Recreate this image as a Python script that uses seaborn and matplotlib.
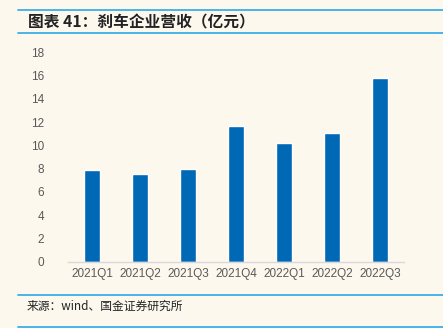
import matplotlib
matplotlib.use("Agg")
import matplotlib.pyplot as plt
from matplotlib.lines import Line2D
import seaborn as sns
import pandas as pd
import numpy as np

quarters = ["2021Q1", "2021Q2", "2021Q3", "2021Q4", "2022Q1", "2022Q2", "2022Q3"]
revenue = [7.88, 7.56, 7.94, 11.70, 10.18, 11.07, 15.78]
y_ticks = [0, 2, 4, 6, 8, 10, 12, 14, 16, 18]

title_text = "图表 41：刹车企业营收（亿元）"
source_text = "来源：wind、国金证券研究所"

bg = "#FCF8EE"
bar_color = "#0068B5"
rule_color = "#3BAEE8"

sns.set_theme(style="white")
plt.rcParams["font.family"] = ["Liberation Sans", "Noto Sans CJK SC", "DejaVu Sans"]

df = pd.DataFrame({"quarter": quarters, "revenue": revenue})

fig = plt.figure(figsize=(4.43, 3.28), dpi=100, facecolor=bg)
ax = fig.add_axes([68 / 443, 1 - 261.5 / 328, 336 / 443, 209 / 328])
ax.set_facecolor(bg)

sns.barplot(data=df, x="quarter", y="revenue", color=bar_color, width=0.34,
            saturation=1, ax=ax)

ax.set_ylim(0, 18)
ax.set_yticks(y_ticks)
ax.set_yticklabels([str(v) for v in y_ticks])
ax.set_xlim(-0.5, len(quarters) - 0.5)
ax.set_xlabel("")
ax.set_ylabel("")

for side in ["top", "right", "left"]:
    ax.spines[side].set_visible(False)
ax.spines["bottom"].set_color("#D9D9D9")
ax.spines["bottom"].set_linewidth(1.0)

ax.tick_params(axis="y", length=0, labelsize=8.5, labelcolor="#595959", pad=17)
ax.tick_params(axis="x", length=0, labelsize=8.5, labelcolor="#595959", pad=5)
ax.set_xticks(np.arange(-0.5, len(quarters)), minor=True)
ax.tick_params(axis="x", which="minor", length=3, direction="in", color="#D9D9D9")

# header and footer rules
for y in (10, 33, 295, 327):
    fig.add_artist(Line2D([18 / 443, 1.0], [1 - y / 328, 1 - y / 328],
                          color=rule_color, linewidth=1.3, transform=fig.transFigure))

fig.text(28 / 443, 1 - 22 / 328, title_text, fontsize=11.3, fontweight="bold",
         fontstyle="italic", color="#222222", va="center", ha="left",
         family=["Noto Sans CJK SC", "DejaVu Sans"])
fig.text(27 / 443, 1 - 306 / 328, source_text, fontsize=8.5, color="#222222",
         va="center", ha="left", family=["Noto Sans CJK SC", "DejaVu Sans"])

fig.savefig("out.png", dpi=100, facecolor=bg)
